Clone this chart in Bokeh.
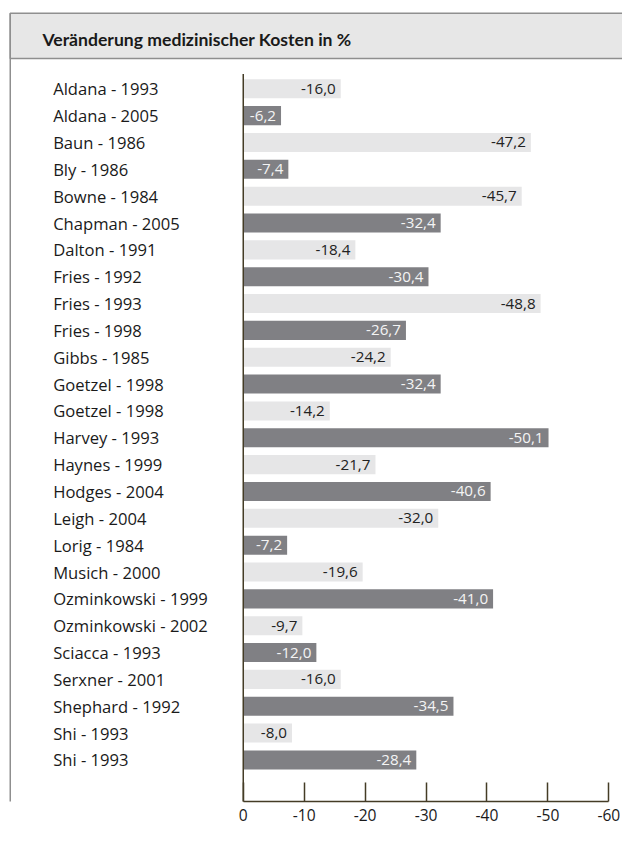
from bokeh.plotting import figure
from bokeh.models import Range1d, LinearAxis, FixedTicker, ColumnDataSource
from bokeh.core.properties import value
from bokeh.embed import file_html
from bokeh.resources import INLINE

# ---------------- data ----------------
title_text = "Veränderung medizinischer Kosten in %"
studies = [
    "Aldana - 1993", "Aldana - 2005", "Baun - 1986", "Bly - 1986", "Bowne - 1984",
    "Chapman - 2005", "Dalton - 1991", "Fries - 1992", "Fries - 1993", "Fries - 1998",
    "Gibbs - 1985", "Goetzel - 1998", "Goetzel - 1998", "Harvey - 1993", "Haynes - 1999",
    "Hodges - 2004", "Leigh - 2004", "Lorig - 1984", "Musich - 2000", "Ozminkowski - 1999",
    "Ozminkowski - 2002", "Sciacca - 1993", "Serxner - 2001", "Shephard - 1992", "Shi - 1993",
    "Shi - 1993",
]
changes = [
    -16.0, -6.2, -47.2, -7.4, -45.7,
    -32.4, -18.4, -30.4, -48.8, -26.7,
    -24.2, -32.4, -14.2, -50.1, -21.7,
    -40.6, -32.0, -7.2, -19.6, -41.0,
    -9.7, -12.0, -16.0, -34.5, -8.0,
    -28.4,
]
tick_values = [0, -10, -20, -30, -40, -50, -60]
tick_labels = ["0", "-10", "-20", "-30", "-40", "-50", "-60"]

# ---------------- layout (reference pixel space 638x849, scaled to figure) ----------------
W, H = 622, 833
SX, SY = W / 638.0, H / 849.0
FRAME_H = round(816 * SY)          # frame bottom = axis line
BOTTOM = H - FRAME_H
ZERO_REF, UNIT_REF = 249.0, 6.25    # ref px of value 0, ref px per unit
ROW0_REF, ROW_REF = 90.0, 27.36     # ref px of first row centre, row pitch


def dx(r):
    return (ZERO_REF - r) / UNIT_REF


def dy(r):
    return (r - ROW0_REF) / ROW_REF


LIGHT, DARK = "#e6e6e7", "#808084"
TXT_DARK, TXT_LIGHT = "#222222", "#f4f4f4"
AXIS_COL = "#443c26"
BORDER = "#8f8f8f"
FONT = "'Open Sans', 'Liberation Sans', sans-serif"
TITLE_FONT = "Lato, 'Open Sans', sans-serif"

idx = list(range(len(studies)))
bar_colors = [LIGHT if i % 2 == 0 else DARK for i in idx]
txt_colors = [TXT_DARK if i % 2 == 0 else TXT_LIGHT for i in idx]
val_text = [f"{v:.1f}".replace(".", ",") for v in changes]

src = ColumnDataSource(dict(y=idx, v=changes, study=studies, fill=bar_colors,
                            tcol=txt_colors, vt=val_text))

p = figure(width=W, height=H, output_backend="svg", toolbar_location=None,
           x_range=Range1d(dx(0), dx(638)), y_range=Range1d(dy(FRAME_H / SY), dy(0)),
           x_axis_type=None, y_axis_type=None,
           min_border_left=0, min_border_right=0, min_border_top=0,
           min_border_bottom=BOTTOM)
p.outline_line_color = None
p.background_fill_color = "white"
p.border_fill_color = "white"

# title band and box border
p.quad(left=dx(10), right=dx(660), top=dy(13), bottom=dy(59),
       fill_color="#e7e7e7", line_color=BORDER, line_width=1.5)
p.segment(x0=dx(10), y0=dy(13), x1=dx(10), y1=dy(900), line_color=BORDER, line_width=1.5)
p.text(x=[dx(43)], y=[dy(40)], text=[title_text], text_font=value(TITLE_FONT),
       text_font_style="bold", text_font_size="17.6px", text_color="#1a1a1a",
       text_baseline="middle", text_align="left")

# bars
p.hbar(y="y", left=0, right="v", height=0.71, fill_color="fill", line_color=None, source=src)

# zero line
p.segment(x0=0, y0=dy(75), x1=0, y1=dy(900), line_color=AXIS_COL, line_width=1.5)

# value labels
p.text(x="v", y="y", text="vt", x_offset=-5, text_align="right", text_baseline="middle",
       text_font=value(FONT), text_font_size="15.2px", text_color="tcol", source=src)

# study labels
p.text(x=dx(54), y="y", text="study", text_align="left", text_baseline="middle",
       text_font=value(FONT), text_font_size="16.6px", text_color="#1a1a1a", source=src)

ax = LinearAxis(ticker=FixedTicker(ticks=tick_values), bounds=(-60, 0),
                major_tick_in=19, major_tick_out=0, minor_tick_line_color=None,
                axis_line_color=AXIS_COL, axis_line_width=1.5,
                major_tick_line_color=AXIS_COL, major_tick_line_width=1.5,
                major_label_overrides={v: s for v, s in zip(tick_values, tick_labels)},
                major_label_standoff=7, major_label_text_font=FONT,
                major_label_text_font_size="15.6px", major_label_text_color="#1a1a1a")
p.add_layout(ax, "below")

open("out.html", "w").write(file_html(p, INLINE))
